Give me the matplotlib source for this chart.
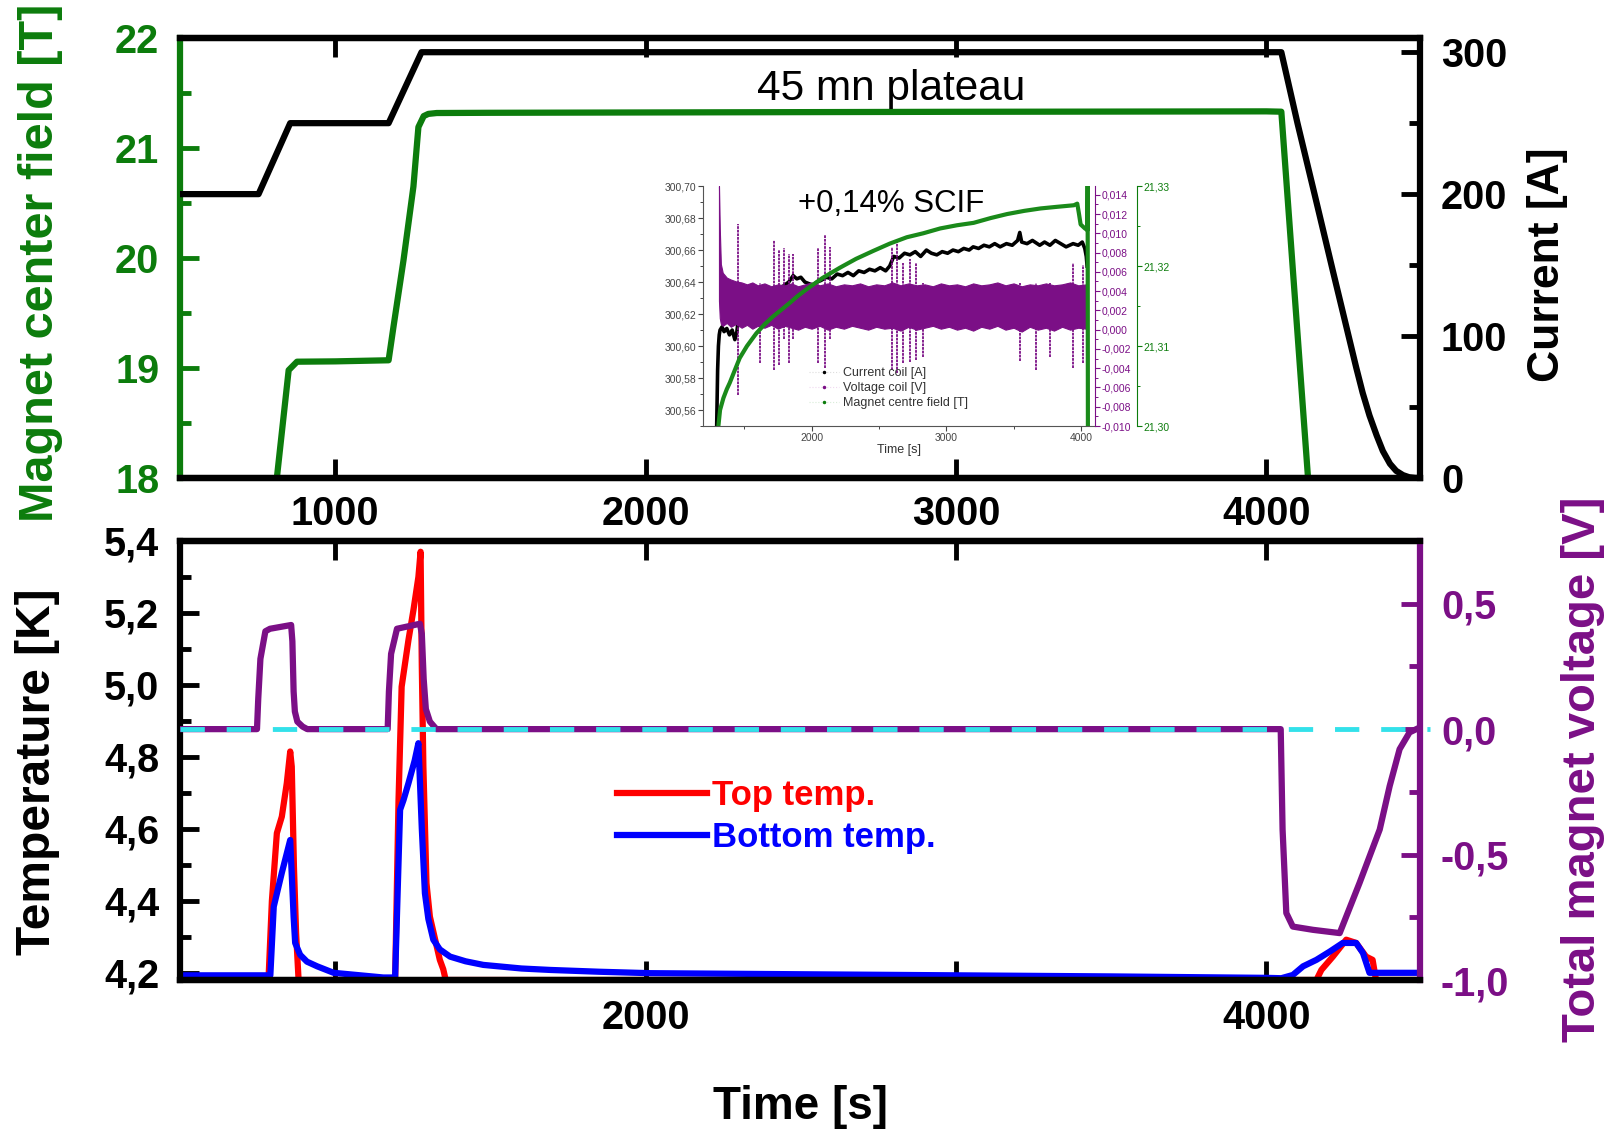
import matplotlib.pyplot as plt
from matplotlib.lines import Line2D
from matplotlib.ticker import MultipleLocator, FixedLocator, FuncFormatter

plt.rcParams['font.family'] = ['Liberation Sans', 'DejaVu Sans']

GREEN = '#0c7c0c'
PURPLE = '#7b0f86'
CYAN = '#33e1ea'

# ---- top panel: coil current and magnet centre field
cur_t = [500, 753, 855, 1172, 1278, 4048, 4100, 4155, 4215, 4289, 4310, 4332, 4355, 4375, 4398,
         4418, 4440, 4460, 4480, 4495]
cur_a = [200, 200, 250, 250, 300, 300, 250, 200, 145, 78, 60, 44, 30, 19, 10, 5, 2, 0.5, 0, 0]

field_t = [812, 850, 877, 1000, 1172, 1188, 1220, 1252, 1268, 1285, 1300, 1327, 1500,
           2000, 2500, 3000, 3500, 4000, 4048, 4134]
field_b = [18.0, 18.98, 19.057, 19.06, 19.07, 19.38, 19.98, 20.65, 21.19, 21.29, 21.31, 21.318, 21.32,
           21.323, 21.326, 21.329, 21.331, 21.333, 21.33, 18.0]

# ---- bottom panel: temperatures and total voltage
top_t = [500, 785, 796, 812, 828, 844, 855, 860, 867, 874, 882, 1193, 1204, 1214, 1236, 1252,
         1268, 1275, 1279, 1284, 1294, 1305, 1337, 1348, 1356, 4161, 4177, 4214, 4257, 4289,
         4321, 4342, 4353, 4495]
top_k = [4.18, 4.18, 4.40, 4.588, 4.634, 4.727, 4.815, 4.773, 4.495, 4.31, 4.18, 4.18, 4.68, 4.995,
         5.125, 5.208, 5.30, 5.37, 5.05, 4.773, 4.449, 4.356, 4.236, 4.21, 4.18, 4.18, 4.208, 4.245,
         4.292, 4.283, 4.245, 4.236, 4.18, 4.18]

bot_t = [500, 791, 802, 828, 855, 866, 871, 887, 909, 942, 995, 1155, 1193, 1209, 1220, 1236,
         1256, 1268, 1279, 1289, 1300, 1316, 1337, 1370, 1420, 1477, 1600, 1692, 1850, 2014,
         2500, 3000, 3500, 4000, 4048, 4085, 4118, 4161, 4204, 4246, 4289, 4311, 4332, 4495]
bot_k = [4.193, 4.193, 4.384, 4.478, 4.569, 4.356, 4.283, 4.25, 4.231, 4.218, 4.2, 4.187, 4.187,
         4.653, 4.68, 4.727, 4.79, 4.838, 4.60, 4.421, 4.35, 4.292, 4.265, 4.245, 4.232, 4.222,
         4.212, 4.208, 4.203, 4.199, 4.196, 4.193, 4.19, 4.186, 4.185, 4.194, 4.218, 4.236,
         4.259, 4.283, 4.283, 4.255, 4.2, 4.2]

volt_t = [500, 748, 752, 759, 775, 790, 858, 862, 866, 870, 878, 895, 910, 1169, 1173, 1180,
          1199, 1273, 1279, 1285, 1292, 1305, 1326, 4046, 4052, 4064, 4085, 4150, 4236, 4300,
          4365, 4397, 4429, 4461, 4483]
volt_v = [0, 0, 0.12, 0.28, 0.39, 0.40, 0.415, 0.35, 0.15, 0.07, 0.03, 0.01, 0, 0, 0.15, 0.30,
          0.40, 0.42, 0.38, 0.20, 0.08, 0.03, 0, 0, -0.40, -0.733, -0.787, -0.80, -0.813, -0.613,
          -0.40, -0.227, -0.08, -0.013, 0]

# ---- inset: zoom on the plateau
in_cur_t = [1295, 1302, 1308, 1314, 1320, 1335, 1350, 1370, 1390, 1410, 1430, 1445, 1460, 1600,
            1750, 1830, 1863, 1890, 1920, 1950, 1980, 2011, 2040, 2070, 2110, 2150, 2190, 2230,
            2270, 2310, 2350, 2390, 2430, 2470, 2510, 2550, 2580, 2610, 2650, 2690, 2730, 2770,
            2810, 2853, 2890, 2930, 2970, 3010, 3050, 3090, 3130, 3170, 3200, 3240, 3280, 3320,
            3360, 3400, 3447, 3490, 3530, 3546, 3560, 3600, 3640, 3694, 3730, 3770, 3810, 3850,
            3890, 3942, 3980, 4010, 4029, 4040, 4046]
in_cur_a = [300.55, 300.585, 300.600, 300.607, 300.610, 300.612, 300.609, 300.611, 300.607,
            300.610, 300.604, 300.609, 300.620, 300.628, 300.635, 300.640, 300.644, 300.642,
            300.643, 300.640, 300.639, 300.638, 300.640, 300.641, 300.643, 300.642, 300.645,
            300.644, 300.646, 300.644, 300.647, 300.646, 300.648, 300.647, 300.649, 300.647,
            300.650, 300.656, 300.655, 300.658, 300.657, 300.659, 300.656, 300.660, 300.658,
            300.657, 300.659, 300.658, 300.660, 300.659, 300.661, 300.660, 300.662, 300.661,
            300.663, 300.662, 300.664, 300.662, 300.664, 300.663, 300.666, 300.671, 300.665,
            300.664, 300.666, 300.663, 300.665, 300.663, 300.666, 300.664, 300.662, 300.664,
            300.663, 300.665, 300.661, 300.656, 300.650]

band_t = [1312, 1318, 1326, 1340, 1370, 1400, 1440, 1480, 1520, 1560, 1600, 1650, 1700, 1750,
          1800, 1850, 1900, 1950, 2000, 2060, 2120, 2180, 2240, 2300, 2360, 2420, 2480, 2540,
          2600, 2660, 2720, 2780, 2840, 2900, 2960, 3020, 3080, 3140, 3200, 3260, 3320, 3380,
          3440, 3500, 3560, 3620, 3680, 3740, 3800, 3860, 3920, 3980, 4040]
band_hi = [0.0149, 0.0105, 0.0068, 0.0059, 0.0054, 0.0052, 0.0050, 0.0049, 0.0047, 0.0049,
           0.0046, 0.0048, 0.0045, 0.0047, 0.0046, 0.0048, 0.0045, 0.0047, 0.0049, 0.0046,
           0.0048, 0.0045, 0.0047, 0.0046, 0.0048, 0.0045, 0.0047, 0.0046, 0.0049, 0.0046,
           0.0048, 0.0046, 0.0047, 0.0045, 0.0048, 0.0046, 0.0047, 0.0045, 0.0048, 0.0046,
           0.0047, 0.0049, 0.0046, 0.0048, 0.0045, 0.0047, 0.0046, 0.0048, 0.0046, 0.0047,
           0.0049, 0.0046, 0.0047]
band_lo = [0.0030, 0.0012, 0.0006, 0.0004, 0.0007, 0.0003, 0.0006, 0.0002, 0.0005, 0.0001,
           0.0004, 0.0002, 0.0005, 0.0001, 0.0004, 0.0002, 0.0000, 0.0003, 0.0001, 0.0004,
           0.0000, 0.0003, 0.0001, 0.0004, 0.0002, 0.0000, 0.0003, 0.0001, 0.0002, -0.0001,
           0.0003, 0.0000, 0.0002, 0.0004, 0.0001, 0.0003, 0.0000, 0.0002, -0.0001, 0.0003,
           0.0001, 0.0004, 0.0000, 0.0002, -0.0002, 0.0003, 0.0000, 0.0002, -0.0001, 0.0003,
           0.0000, 0.0002, 0.0001]

spike_t = [1451, 1616, 1720, 1759, 1794, 1831, 1864, 2049, 2099, 2136, 2594, 2631, 2680, 2730,
           2779, 2829, 3547, 3670, 3769, 3942, 4017, 4046]
spike_hi = [0.0110, 0.0048, 0.0093, 0.0083, 0.0085, 0.0078, 0.0079, 0.0085, 0.0098, 0.0086,
            0.0086, 0.0092, 0.0069, 0.0073, 0.0069, 0.0048, 0.0048, 0.0048, 0.0048, 0.0069,
            0.0067, 0.0149]
spike_lo = [-0.0068, -0.0035, -0.0042, -0.0037, -0.0010, -0.0035, -0.0010, -0.0035, -0.0040,
            -0.0010, -0.0042, -0.0045, -0.0035, -0.0034, -0.0031, -0.0028, -0.0033, -0.0042,
            -0.0028, -0.0040, -0.0035, -0.0100]

in_field_t = [1307, 1320, 1345, 1370, 1392, 1430, 1466, 1520, 1590, 1650, 1714, 1780, 1838,
              1900, 1963, 2080, 2211, 2330, 2459, 2580, 2707, 2830, 2955, 3080, 3203, 3330,
              3452, 3580, 3700, 3820, 3948, 3973, 3985, 3998, 4030, 4048, 4050, 4052]
in_field_b = [21.2999, 21.302, 21.3035, 21.3046, 21.3054, 21.307, 21.3085, 21.310, 21.3116,
              21.3127, 21.3137, 21.3146, 21.3154, 21.3163, 21.3171, 21.3185, 21.3198, 21.3209,
              21.3219, 21.3228, 21.3236, 21.3241, 21.3247, 21.3251, 21.3254, 21.3260, 21.3265,
              21.3269, 21.3272, 21.3274, 21.3276, 21.3278, 21.3266, 21.3252, 21.3247, 21.3245,
              21.3305, 21.2995]

time_ticks = [1000, 2000, 3000, 4000]
top_time_labels = ['1000', '2000', '3000', '4000']
bot_time_labels = ['', '2000', '', '4000']
field_ticks = [18, 19, 20, 21, 22]
field_labels = ['18', '19', '20', '21', '22']
cur_ticks = [0, 100, 200, 300]
cur_labels = ['0', '100', '200', '300']
temp_ticks = [4.2, 4.4, 4.6, 4.8, 5.0, 5.2, 5.4]
temp_labels = ['4,2', '4,4', '4,6', '4,8', '5,0', '5,2', '5,4']
volt_ticks = [-1.0, -0.5, 0.0, 0.5]
volt_labels = ['-1,0', '-0,5', '0,0', '0,5']

TICK_FS = 28.5
LW = 4.5


def big_ticks(ax, axis, ticks, labels, minor, color, pad):
    if axis == 'x':
        ax.set_xticks(ticks)
        ax.set_xticklabels(labels, fontweight='bold', fontsize=TICK_FS)
        ax.xaxis.set_minor_locator(FixedLocator(minor))
    else:
        ax.set_yticks(ticks)
        ax.set_yticklabels(labels, fontweight='bold', fontsize=TICK_FS)
        ax.yaxis.set_minor_locator(FixedLocator(minor))
    ax.tick_params(axis=axis, which='major', direction='in', length=14, width=3.5,
                   colors=color, pad=pad)
    ax.tick_params(axis=axis, which='minor', direction='in', length=8, width=3.5, colors=color)


fig = plt.figure(figsize=(16.13, 11.31), dpi=100)

# ---------------- top panel
ax1 = fig.add_axes([0.1116, 0.5774, 0.7688, 0.3890])
ax1r = ax1.twinx()
ax1.plot(field_t, field_b, color=GREEN, lw=LW, solid_capstyle='round')
ax1r.plot(cur_t, cur_a, color='black', lw=LW, solid_capstyle='round')
ax1.set_xlim(500, 4495)
ax1.set_ylim(18, 22)
ax1r.set_ylim(0, 310)

big_ticks(ax1, 'x', time_ticks, top_time_labels, [], 'black', 12.5)
ax1.tick_params(axis='x', top=True, bottom=True)
big_ticks(ax1, 'y', field_ticks, field_labels, [18.5, 19.5, 20.5, 21.5], GREEN, 15)
big_ticks(ax1r, 'y', cur_ticks, cur_labels, [50, 150, 250], 'black', 15)

for a in (ax1, ax1r):
    for s in a.spines.values():
        s.set_linewidth(4.5)
ax1.spines['left'].set_color(GREEN)
ax1r.spines['left'].set_visible(False)
ax1.spines['right'].set_visible(False)

# ---------------- bottom panel
ax2 = fig.add_axes([0.1116, 0.1335, 0.7688, 0.3882])
ax2r = ax2.twinx()
l_top, = ax2.plot(top_t, top_k, color='#ff0000', lw=LW, label='Top temp.')
l_bot, = ax2.plot(bot_t, bot_k, color='#0000ff', lw=LW, label='Bottom temp.')
ax2r.plot(volt_t, volt_v, color=PURPLE, lw=LW)
ax2r.axhline(0, xmin=0, xmax=1.008, color=CYAN, lw=3.5, dashes=(5, 4.5), clip_on=False, zorder=5)
ax2.set_xlim(500, 4495)
ax2.set_ylim(4.18, 5.40)
ax2r.set_ylim(-1.0, 0.75)

big_ticks(ax2, 'x', time_ticks, bot_time_labels, [], 'black', 14)
ax2.tick_params(axis='x', top=True, bottom=True)
big_ticks(ax2, 'y', temp_ticks, temp_labels, [4.3, 4.5, 4.7, 4.9, 5.1, 5.3], 'black', 15)
big_ticks(ax2r, 'y', volt_ticks, volt_labels, [-0.75, -0.25, 0.25], PURPLE, 15)

for a in (ax2, ax2r):
    for s in a.spines.values():
        s.set_linewidth(4.5)
ax2r.spines['left'].set_visible(False)
ax2.spines['right'].set_visible(False)
ax2r.spines['right'].set_color(PURPLE)

ax2r.legend([l_top, l_bot], ['Top temp.', 'Bottom temp.'], loc='upper left',
            bbox_to_anchor=(0.352, 0.458), frameon=False, prop={'weight': 'bold', 'size': 25},
            labelcolor='linecolor', handlelength=2.6, handletextpad=0.15, borderpad=0,
            borderaxespad=0, labelspacing=0.27)

# ---------------- axis titles
fig.text(0.0254, 0.768, 'Magnet center field [T]', rotation=90, ha='center', va='center',
         fontsize=35, fontweight='bold', color=GREEN)
fig.text(0.9594, 0.7657, 'Current [A]', rotation=90, ha='center', va='center',
         fontsize=32, fontweight='bold', color='black')
fig.text(0.0233, 0.3179, 'Temperature [K]', rotation=90, ha='center', va='center',
         fontsize=34.5, fontweight='bold', color='black')
fig.text(0.9814, 0.3201, 'Total magnet voltage [V]', rotation=90, ha='center', va='center',
         fontsize=34, fontweight='bold', color=PURPLE)
fig.text(0.496, 0.0212, 'Time [s]', ha='center', va='center', fontsize=33, fontweight='bold')
fig.text(0.5524, 0.9209, '45 mn plateau', ha='center', va='center', fontsize=30.5)

# ---------------- inset
ax_in = fig.add_axes([0.4358, 0.6233, 0.2430, 0.2122])
ax_in_v = ax_in.twinx()
ax_in_b = ax_in.twinx()
ax_in_b.spines['right'].set_position(('outward', 30))

ax_in.plot(in_cur_t, in_cur_a, color='black', lw=2.6)
ax_in_v.fill_between(band_t, band_lo, band_hi, color=PURPLE, lw=0.8, edgecolor=PURPLE)
ax_in_v.vlines(spike_t, spike_lo, spike_hi, color=PURPLE, lw=1.3, linestyles=(0, (1.5, 0.5)))
ax_in_b.plot(in_field_t, in_field_b, color='#1a8a1a', lw=3)

ax_in.set_xlim(1193, 4104)
ax_in.set_ylim(300.55, 300.70)
ax_in_v.set_ylim(-0.010, 0.0149)
ax_in_b.set_ylim(21.30, 21.3300)

for a in (ax_in, ax_in_v, ax_in_b):
    a.spines['top'].set_visible(False)
    for s in a.spines.values():
        s.set_linewidth(0.8)
ax_in.spines['right'].set_visible(False)
for a in (ax_in_v, ax_in_b):
    a.spines['left'].set_visible(False)
    a.spines['bottom'].set_visible(False)
ax_in.spines['left'].set_color('#555555')
ax_in.spines['bottom'].set_color('#555555')
ax_in_v.spines['right'].set_color(PURPLE)
ax_in_b.spines['right'].set_color(GREEN)


def comma_fmt(nd):
    def f(v, p):
        s = f'{v:.{nd}f}'
        if s.startswith('-') and float(s) == 0:
            s = s[1:]
        return s.replace('.', ',')
    return FuncFormatter(f)


ax_in.xaxis.set_major_locator(MultipleLocator(1000))
ax_in.xaxis.set_minor_locator(MultipleLocator(500))
ax_in.yaxis.set_major_locator(MultipleLocator(0.02))
ax_in.yaxis.set_minor_locator(MultipleLocator(0.01))
ax_in.yaxis.set_major_formatter(comma_fmt(2))
ax_in_v.yaxis.set_major_locator(MultipleLocator(0.002))
ax_in_v.yaxis.set_minor_locator(MultipleLocator(0.001))
ax_in_v.yaxis.set_major_formatter(comma_fmt(3))
ax_in_b.yaxis.set_major_locator(MultipleLocator(0.01))
ax_in_b.yaxis.set_minor_locator(MultipleLocator(0.005))
ax_in_b.yaxis.set_major_formatter(comma_fmt(2))

for a, c in ((ax_in, '#444444'), (ax_in_v, PURPLE), (ax_in_b, GREEN)):
    a.tick_params(which='major', direction='out', length=3.5, width=0.8, labelsize=7.5,
                  pad=1.5, colors=c)
    a.tick_params(which='minor', direction='out', length=2, width=0.7, colors=c)
ax_in.tick_params(axis='x', colors='#444444')
ax_in.set_xlabel('Time [s]', fontsize=9, labelpad=1, color='#333333')

in_handles = [
    Line2D([], [], color='#dddddd', ls=':', lw=0.8, marker='.', ms=3,
           markerfacecolor='black', markeredgecolor='black'),
    Line2D([], [], color='#f0d8f0', ls=':', lw=0.8, marker='.', ms=3,
           markerfacecolor=PURPLE, markeredgecolor=PURPLE),
    Line2D([], [], color='#d8ecd8', ls=':', lw=0.8, marker='.', ms=3,
           markerfacecolor=GREEN, markeredgecolor=GREEN),
]
ax_in_b.legend(in_handles, ['Current coil [A]', 'Voltage coil [V]', 'Magnet centre field [T]'],
               loc='upper left', bbox_to_anchor=(0.27, 0.245), frameon=False, fontsize=9,
               handlelength=2.4, handletextpad=0.3, labelspacing=0.25, borderpad=0,
               borderaxespad=0, labelcolor='#333333')

fig.text(0.5522, 0.8196, '+0,14% SCIF', ha='center', va='center', fontsize=22.5)

fig.savefig('out.png', dpi=100)
